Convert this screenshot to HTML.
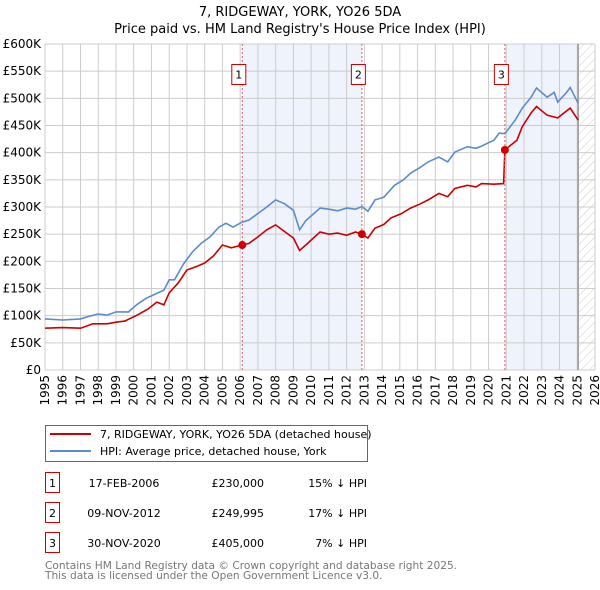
<!DOCTYPE html>
<html><head><meta charset="utf-8"><style>
body{margin:0;background:#fff;font-family:"DejaVu Sans","Liberation Sans",sans-serif}
svg{display:block}
</style></head><body>
<svg width="600" height="590" xmlns="http://www.w3.org/2000/svg" font-family="DejaVu Sans, Liberation Sans, sans-serif">
<defs><pattern id="hatch" width="6" height="6" patternUnits="userSpaceOnUse" patternTransform="rotate(45)"><line x1="0" y1="0" x2="0" y2="6" stroke="#ccc" stroke-width="1"/></pattern></defs>
<text x="300" y="16" text-anchor="middle" font-size="13">7, RIDGEWAY, YORK, YO26 5DA</text>
<text x="300" y="33" text-anchor="middle" font-size="13">Price paid vs. HM Land Registry's House Price Index (HPI)</text>
<g id="bands"></g><g id="grid"></g><g id="series"></g><g id="marks"></g><g id="axes"></g>
<g>
<rect x="45.5" y="425.5" width="322" height="36" fill="#fff" stroke="#666"/>
<line x1="50" y1="434" x2="91" y2="434" stroke="#cc0000" stroke-width="2"/>
<text x="100" y="438" font-size="11">7, RIDGEWAY, YORK, YO26 5DA (detached house)</text>
<line x1="50" y1="451" x2="91" y2="451" stroke="#5b8ccf" stroke-width="2"/>
<text x="100" y="455" font-size="11">HPI: Average price, detached house, York</text>
</g>
<g id="table" font-size="11"></g>
<text x="45" y="569" font-size="10.6" fill="#777">Contains HM Land Registry data © Crown copyright and database right 2025.</text>
<text x="45" y="579" font-size="10.6" fill="#777">This data is licensed under the Open Government Licence v3.0.</text>
</svg>
<script>
const hpiYears=[1995,1996,1997,1997.5,1998,1998.5,1999,1999.7,2000.2,2000.7,2001.3,2001.7,2002,2002.3,2002.8,2003.3,2003.8,2004.3,2004.8,2005.2,2005.6,2006.1,2006.5,2007,2007.5,2008,2008.5,2009,2009.35,2009.7,2010.5,2011,2011.5,2012,2012.5,2012.86,2013.2,2013.6,2014.1,2014.7,2015.2,2015.6,2016.1,2016.6,2017.2,2017.7,2018.1,2018.8,2019.3,2019.6,2020.3,2020.6,2020.92,2021.5,2021.9,2022.4,2022.7,2023.3,2023.7,2023.9,2024.4,2024.6,2025.05];
const hpiValues=[94,92,94,99,103,101,107,107,121,132,141,147,166,166,195,217,233,245,263,270,263,272,276,288,300,313,306,294,258,275,298,296,293,298,296,301,292,313,318,340,350,362,372,383,392,383,401,411,408,412,423,436,435,460,482,502,519,502,511,493,511,520,491];
const ppYears=[1995,1996,1997,1997.7,1998.5,1999,1999.5,2000.2,2000.8,2001.3,2001.7,2002,2002.5,2003,2003.5,2004,2004.5,2005,2005.5,2006.12,2006.5,2007,2007.5,2008,2008.5,2009,2009.35,2009.7,2010.5,2011,2011.5,2012,2012.5,2012.86,2013.2,2013.6,2014.1,2014.5,2015.1,2015.6,2016.1,2016.6,2017.2,2017.7,2018.1,2018.8,2019.3,2019.6,2020.3,2020.85,2020.92,2021.3,2021.6,2021.9,2022.4,2022.7,2023.3,2023.9,2024.6,2025.05];
const ppValues=[77,78,77,85,85,88,90,101,112,125,120,142,160,184,190,197,210,230,225,230,233,245,258,267,255,243,220,230,254,250,252,248,254,250,243,261,268,280,288,298,305,313,325,319,334,340,337,343,342,343,405,415,423,448,473,485,469,464,482,460];
const saleYears=[2006.12,2012.86,2020.92];
const saleValues=[230,249.995,405];
const saleLabels=["1","2","3"];
const saleDates=["17-FEB-2006","09-NOV-2012","30-NOV-2020"];
const salePrices=["£230,000","£249,995","£405,000"];
const saleHpi=["15% ↓ HPI","17% ↓ HPI","7% ↓ HPI"];
const yTicks=[0,50,100,150,200,250,300,350,400,450,500,550,600];
const yTickLabels=["£0","£50K","£100K","£150K","£200K","£250K","£300K","£350K","£400K","£450K","£500K","£550K","£600K"];
const xTicks=[1995,1996,1997,1998,1999,2000,2001,2002,2003,2004,2005,2006,2007,2008,2009,2010,2011,2012,2013,2014,2015,2016,2017,2018,2019,2020,2021,2022,2023,2024,2025,2026];
const dataEnd=2025.05;
const L=45,R=595,T=44,B=370;
const X=y=>L+(y-1995)/(2026-1995)*(R-L);
const Y=v=>B-v/600*(B-T);
const NS="http://www.w3.org/2000/svg";
function mk(tag,attrs,parent,txt){const e=document.createElementNS(NS,tag);for(const k in attrs)e.setAttribute(k,attrs[k]);if(txt!==undefined)e.textContent=txt;document.getElementById(parent).appendChild(e);return e;}
let e;
e=mk('rect',{x:X(saleYears[0]),y:T,width:X(saleYears[1])-X(saleYears[0]),height:B-T,fill:'#eef3fc'},'bands');


e=mk('rect',{x:X(saleYears[2]),y:T,width:X(dataEnd)-X(saleYears[2]),height:B-T,fill:'#eef3fc'},'bands');


e=mk('rect',{x:X(dataEnd),y:T,width:R-X(dataEnd),height:B-T,fill:'url(#hatch)'},'bands');


yTicks.forEach((v,i)=>{
 e=mk('line',{x1:L,x2:R,y1:Y(v),y2:Y(v),stroke:'#ccc','stroke-width':1},'grid');
 
 
 e=mk('text',{x:L-4,y:Y(v)+4,'text-anchor':'end','font-size':12},'axes',yTickLabels[i]);
 
 
});
xTicks.forEach(yr=>{
 e=mk('line',{x1:X(yr),x2:X(yr),y1:T,y2:B,stroke:'#ccc','stroke-width':1},'grid');
 
 
 e=mk('text',{x:0,y:0,'text-anchor':'end','font-size':12,transform:`translate(${X(yr)+4},${B+5}) rotate(-90)`},'axes',String(yr));
 
 
});
e=mk('line',{x1:X(dataEnd),x2:X(dataEnd),y1:T,y2:B,stroke:'#999','stroke-width':1.5},'grid');


const path=(xs,vs)=>xs.map((x,i)=>(i?'L':'M')+X(x).toFixed(1)+','+Y(vs[i]).toFixed(1)).join('');
e=mk('path',{d:path(hpiYears,hpiValues),fill:'none',stroke:'#5b8ccf','stroke-width':1.6},'series');


e=mk('path',{d:path(ppYears,ppValues),fill:'none',stroke:'#cc0000','stroke-width':1.6},'series');


saleYears.forEach((yr,i)=>{
 e=mk('line',{x1:X(yr),x2:X(yr),y1:T,y2:B,stroke:'#e06060','stroke-width':1,'stroke-dasharray':'2,2'},'marks');
 
 
 e=mk('circle',{cx:X(yr),cy:Y(saleValues[i]),r:4,fill:'#cc0000'},'marks');
 
 
 e=mk('rect',{x:X(yr)-10.5,y:64.5,width:14,height:20,fill:'#fff',stroke:'#cc0000'},'marks');
 
 
 e=mk('text',{x:X(yr)-3.5,y:78.5,'text-anchor':'middle','font-size':11},'marks',saleLabels[i]);
 
 
 const cy=483+i*30;
 e=mk('rect',{x:45.5,y:cy-10.5,width:14,height:20,fill:'none',stroke:'#cc0000'},'table');
 
 
 e=mk('text',{x:52.5,y:cy+4,'text-anchor':'middle'},'table',saleLabels[i]);
 
 
 e=mk('text',{x:124,y:cy+4,'text-anchor':'middle'},'table',saleDates[i]);
 
 
 e=mk('text',{x:264,y:cy+4,'text-anchor':'end'},'table',salePrices[i]);
 
 
 e=mk('text',{x:367,y:cy+4,'text-anchor':'end'},'table',saleHpi[i]);
 
 
});
</script>
</body></html>
